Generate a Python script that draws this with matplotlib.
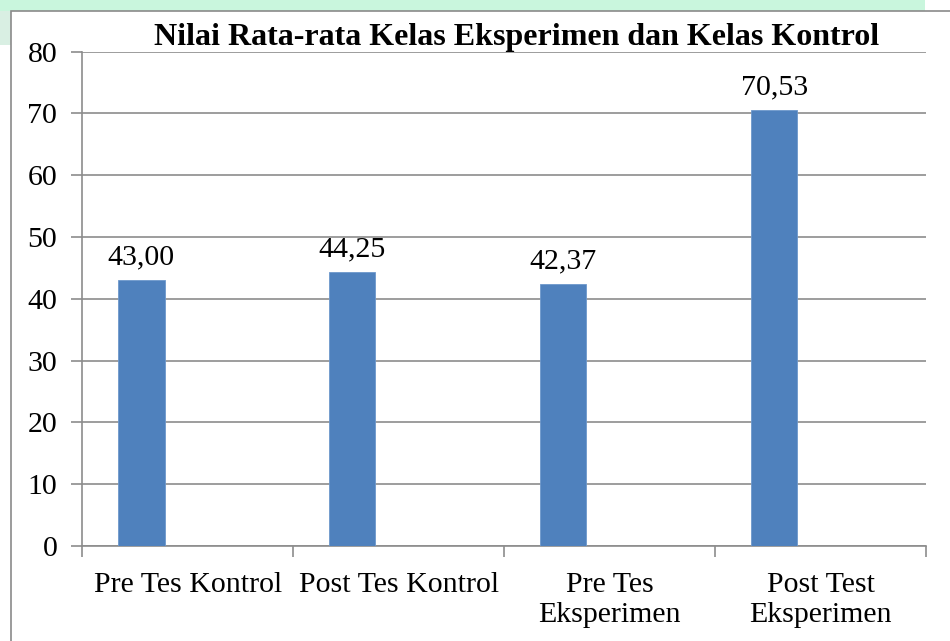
import matplotlib
matplotlib.use("Agg")
import matplotlib.pyplot as plt
from matplotlib.patches import Rectangle

categories = ["Pre Tes Kontrol", "Post Tes Kontrol", "Pre Tes\nEksperimen", "Post Test\nEksperimen"]
values = [43.00, 44.25, 42.37, 70.53]
value_labels = ["43,00", "44,25", "42,37", "70,53"]
yticks = [0, 10, 20, 30, 40, 50, 60, 70, 80]
title = "Nilai Rata-rata Kelas Eksperimen dan Kelas Kontrol"

plt.rcParams['font.family'] = ['Liberation Serif', 'DejaVu Serif']

W, H = 950, 641
fig = plt.figure(figsize=(W / 100, H / 100), dpi=100)
fig.patch.set_facecolor('white')

# light green watermark band at the top / left
fig.patches.append(Rectangle((0, 1 - 11 / H), 925 / W, 11 / H, transform=fig.transFigure,
                             facecolor='#c9f6dd', edgecolor='none', zorder=0))
fig.patches.append(Rectangle((0, 1 - 45 / H), 10.5 / W, 34 / H, transform=fig.transFigure,
                             facecolor='#d9efe3', edgecolor='none', zorder=0))
# chart frame
fig.patches.append(Rectangle((11 / W, -0.5), 1.5, 1.5 - 11 / H, transform=fig.transFigure,
                             facecolor='none', edgecolor='#8a8a8a', linewidth=1.2, zorder=1))

left, right = 82.3 / W, 926 / W
bottom, top = 1 - 546 / H, 1 - 51.5 / H
ax = fig.add_axes([left, bottom, right - left, top - bottom])
ax.set_facecolor('none')

n = len(categories)
xs = [i - 0.22 for i in range(n)]
bars = ax.bar(xs, values, width=0.22, color='#4F81BD', edgecolor='#6d98cc', linewidth=0.6, zorder=3)

fs = 21.5
for x, v, lab in zip(xs, values, value_labels):
    ax.annotate(lab, (x, v), xytext=(0, 7), textcoords='offset points',
                ha='center', va='bottom', fontsize=fs, color='black')

ax.set_xlim(-0.5, n - 0.5)
ax.set_ylim(0, 80)
ax.set_yticks(yticks)
ax.set_yticklabels([str(t) for t in yticks])
ax.yaxis.grid(True, color='#8c8c8c', linewidth=1.2, zorder=0)
ax.set_axisbelow(True)

ax.set_xticks(range(n))
ax.set_xticklabels(categories, linespacing=1.2)
ax.set_xticks([i - 0.5 for i in range(n + 1)], minor=True)
ax.tick_params(axis='x', which='major', length=0, pad=19, labelsize=fs)
ax.tick_params(axis='x', which='minor', length=8, width=1.2, color='#8c8c8c')
ax.tick_params(axis='y', length=8, width=1.2, color='#8c8c8c', pad=10, labelsize=fs)

for s in ['top', 'right']:
    ax.spines[s].set_visible(False)
for s in ['left', 'bottom']:
    ax.spines[s].set_color('#8c8c8c')
    ax.spines[s].set_linewidth(1.2)

fig.text(517 / W, 1 - 45 / H, title, ha='center', va='baseline',
         fontsize=23, fontweight='bold', color='black')

fig.savefig('out.png', dpi=100)
